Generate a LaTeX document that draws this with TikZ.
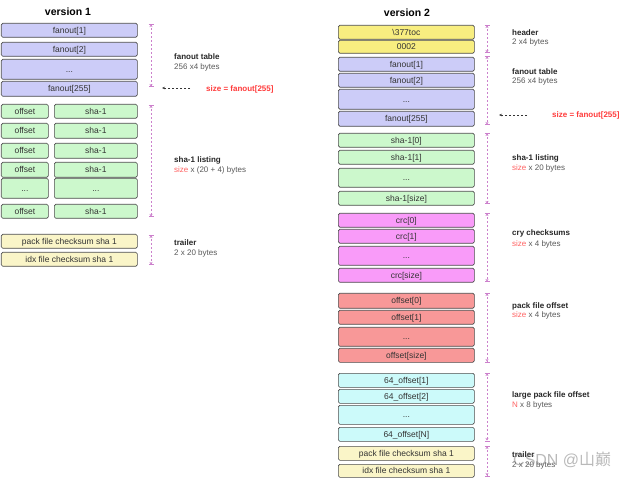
\documentclass[tikz,border=0pt]{standalone}
\usepackage{fontspec}
\setmainfont{Liberation Sans}
\newfontfamily\cjk{Noto Sans CJK SC}
\usetikzlibrary{arrows.meta}
\definecolor{fan}{HTML}{CCCCF8}
\definecolor{grn}{HTML}{CCF8CC}
\definecolor{hdr}{HTML}{F8EE80}
\definecolor{trl}{HTML}{FAF5C8}
\definecolor{crcc}{HTML}{F99BF9}
\definecolor{offc}{HTML}{F89898}
\definecolor{cyn}{HTML}{CCFAFA}
\definecolor{brkc}{HTML}{CC80CC}
\definecolor{redt}{HTML}{FF3B3B}
\tikzset{
  box/.style={draw=black!70, line width=0.7pt, rounded corners=1.5pt, inner sep=0pt,
    anchor=north west, font=\fontsize{8.5}{9}\selectfont, text=black!80,
    text height=6pt, text depth=0pt},
  brk/.style={draw=brkc, dash pattern=on 2pt off 2pt, line width=0.5pt,
    {Bar[width=5pt,line width=0.5pt]Stealth[length=2.5pt,width=3pt]}-{Stealth[length=2.5pt,width=3pt]Bar[width=5pt,line width=0.5pt]}},
  ptr/.style={draw=black!80, dash pattern=on 2pt off 2pt, line width=0.5pt, -{Stealth[length=3pt,width=2.5pt]}},
  ttl/.style={font=\bfseries\fontsize{10.5}{12}\selectfont, inner sep=0pt},
  lbl/.style={anchor=west, inner sep=0pt, font=\bfseries\fontsize{8}{9}\selectfont, text=black!85},
  sub/.style={anchor=west, inner sep=0pt, font=\fontsize{8}{9}\selectfont, text=black!65},
  redl/.style={anchor=west, inner sep=0pt, font=\bfseries\fontsize{8}{9}\selectfont, text=redt},
}
\begin{document}
\begin{tikzpicture}[x=1pt,y=-1pt]
\useasboundingbox (0,0) rectangle (640,478);
% ---------- version 1 ----------
\node[ttl] (t1) at (68,12) {version 1};
\node[box,fill=fan,minimum width=136pt,minimum height=14pt] (af1) at (1,23) {fanout[1]};
\node[box,fill=fan,minimum width=136pt,minimum height=14pt] (af2) at (1,42) {fanout[2]};
\node[box,fill=fan,minimum width=136pt,minimum height=20pt] (afd) at (1,59) {...};
\node[box,fill=fan,minimum width=136pt,minimum height=15pt] (af3) at (1,81) {fanout[255]};
\node[box,fill=grn,minimum width=47pt,minimum height=14pt] (ao1) at (1,104) {offset};
\node[box,fill=grn,minimum width=83pt,minimum height=14pt] (as1) at (54,104) {sha-1};
\node[box,fill=grn,minimum width=47pt,minimum height=15pt] (ao2) at (1,123) {offset};
\node[box,fill=grn,minimum width=83pt,minimum height=15pt] (as2) at (54,123) {sha-1};
\node[box,fill=grn,minimum width=47pt,minimum height=15pt] (ao3) at (1,143) {offset};
\node[box,fill=grn,minimum width=83pt,minimum height=15pt] (as3) at (54,143) {sha-1};
\node[box,fill=grn,minimum width=47pt,minimum height=15pt] (ao4) at (1,162) {offset};
\node[box,fill=grn,minimum width=83pt,minimum height=15pt] (as4) at (54,162) {sha-1};
\node[box,fill=grn,minimum width=47pt,minimum height=20pt] (aod) at (1,178) {...};
\node[box,fill=grn,minimum width=83pt,minimum height=20pt] (asd) at (54,178) {...};
\node[box,fill=grn,minimum width=47pt,minimum height=14pt] (ao6) at (1,204) {offset};
\node[box,fill=grn,minimum width=83pt,minimum height=14pt] (as6) at (54,204) {sha-1};
\node[box,fill=trl,minimum width=136pt,minimum height=14pt] (atp) at (1,234) {pack file checksum sha 1};
\node[box,fill=trl,minimum width=136pt,minimum height=14pt] (ati) at (1,252) {idx file checksum sha 1};
% brackets v1
\coordinate (b1a) at (151,24); \coordinate (b1b) at (151,87);
\coordinate (b2a) at (151,105); \coordinate (b2b) at (151,217);
\coordinate (b3a) at (151,235); \coordinate (b3b) at (151,265);
\draw[brk] (b1a) -- (b1b);
\draw[brk] (b2a) -- (b2b);
\draw[brk] (b3a) -- (b3b);
% labels v1
\node[lbl] (l1a) at (174,57) {fanout table};
\node[sub] (l1b) at (174,67) {256 x4 bytes};
\coordinate (p1s) at (190,88); \coordinate (p1e) at (162,88);
\draw[ptr] (p1s) -- (p1e);
\node[redl] (r1) at (206,89) {size = fanout[255]};
\node[lbl] (l2a) at (174,160) {sha-1 listing};
\node[sub] (l2b) at (174,170) {\textcolor{redt!80}{size} x (20 + 4) bytes};
\node[lbl] (l3a) at (174,243) {trailer};
\node[sub] (l3b) at (174,253) {2 x 20 bytes};
% ---------- version 2 ----------
\node[ttl] (t2) at (407,13) {version 2};
\node[box,fill=hdr,minimum width=136pt,minimum height=14pt] (bh1) at (338,25) {\textbackslash 377toc};
\node[box,fill=hdr,minimum width=136pt,minimum height=13pt] (bh2) at (338,40) {0002};
\node[box,fill=fan,minimum width=136pt,minimum height=14pt] (bf1) at (338,57) {fanout[1]};
\node[box,fill=fan,minimum width=136pt,minimum height=14pt] (bf2) at (338,73) {fanout[2]};
\node[box,fill=fan,minimum width=136pt,minimum height=20pt] (bfd) at (338,89) {...};
\node[box,fill=fan,minimum width=136pt,minimum height=15pt] (bf3) at (338,111) {fanout[255]};
\node[box,fill=grn,minimum width=136pt,minimum height=14pt] (bs1) at (338,133) {sha-1[0]};
\node[box,fill=grn,minimum width=136pt,minimum height=14pt] (bs2) at (338,150) {sha-1[1]};
\node[box,fill=grn,minimum width=136pt,minimum height=19pt] (bsd) at (338,168) {...};
\node[box,fill=grn,minimum width=136pt,minimum height=14pt] (bs3) at (338,191) {sha-1[size]};
\node[box,fill=crcc,minimum width=136pt,minimum height=14pt] (bc1) at (338,213) {crc[0]};
\node[box,fill=crcc,minimum width=136pt,minimum height=14pt] (bc2) at (338,229) {crc[1]};
\node[box,fill=crcc,minimum width=136pt,minimum height=19pt] (bcd) at (338,246) {...};
\node[box,fill=crcc,minimum width=136pt,minimum height=14pt] (bc3) at (338,268) {crc[size]};
\node[box,fill=offc,minimum width=136pt,minimum height=15pt] (bo1) at (338,293) {offset[0]};
\node[box,fill=offc,minimum width=136pt,minimum height=14pt] (bo2) at (338,310) {offset[1]};
\node[box,fill=offc,minimum width=136pt,minimum height=19pt] (bod) at (338,327) {...};
\node[box,fill=offc,minimum width=136pt,minimum height=14pt] (bo3) at (338,348) {offset[size]};
\node[box,fill=cyn,minimum width=136pt,minimum height=14pt] (bl1) at (338,373) {64\_offset[1]};
\node[box,fill=cyn,minimum width=136pt,minimum height=14pt] (bl2) at (338,389) {64\_offset[2]};
\node[box,fill=cyn,minimum width=136pt,minimum height=19pt] (bld) at (338,405) {...};
\node[box,fill=cyn,minimum width=136pt,minimum height=14pt] (bl3) at (338,427) {64\_offset[N]};
\node[box,fill=trl,minimum width=136pt,minimum height=14pt] (btp) at (338,446) {pack file checksum sha 1};
\node[box,fill=trl,minimum width=136pt,minimum height=13pt] (bti) at (338,464) {idx file checksum sha 1};
% brackets v2
\coordinate (c1a) at (487,25); \coordinate (c1b) at (487,53);
\coordinate (c2a) at (487,56); \coordinate (c2b) at (487,125);
\coordinate (c3a) at (487,133); \coordinate (c3b) at (487,204);
\coordinate (c4a) at (487,213); \coordinate (c4b) at (487,282);
\coordinate (c5a) at (487,293); \coordinate (c5b) at (487,362);
\coordinate (c6a) at (487,373); \coordinate (c6b) at (487,441);
\coordinate (c7a) at (487,446); \coordinate (c7b) at (487,476);
\draw[brk] (c1a) -- (c1b);
\draw[brk] (c2a) -- (c2b);
\draw[brk] (c3a) -- (c3b);
\draw[brk] (c4a) -- (c4b);
\draw[brk] (c5a) -- (c5b);
\draw[brk] (c6a) -- (c6b);
\draw[brk] (c7a) -- (c7b);
% labels v2
\node[lbl] (m1a) at (512,33) {header};
\node[sub] (m1b) at (512,42) {2 x4 bytes};
\node[lbl] (m2a) at (512,72) {fanout table};
\node[sub] (m2b) at (512,81) {256 x4 bytes};
\coordinate (p2s) at (527,115); \coordinate (p2e) at (499,115);
\draw[ptr] (p2s) -- (p2e);
\node[redl] (r2) at (552,115) {size = fanout[255]};
\node[lbl] (m3a) at (512,158) {sha-1 listing};
\node[sub] (m3b) at (512,168) {\textcolor{redt!80}{size} x 20 bytes};
\node[lbl] (m4a) at (512,233) {cry checksums};
\node[sub] (m4b) at (512,244) {\textcolor{redt!80}{size} x 4 bytes};
\node[lbl] (m5a) at (512,306) {pack file offset};
\node[sub] (m5b) at (512,315) {\textcolor{redt!80}{size} x 4 bytes};
\node[lbl] (m6a) at (512,395) {large pack file offset};
\node[sub] (m6b) at (512,405) {\textcolor{redt!80}{N} x 8 bytes};
\node[lbl] (m7a) at (512,455) {trailer};
\node[sub] (m7b) at (512,465) {2 x 20 bytes};
% watermark
\node[anchor=west, inner sep=0pt, text=gray, opacity=0.55, font=\fontsize{16}{18}\selectfont] (wm) at (513,460) {CSDN @{\cjk 山巅}};
\end{tikzpicture}
\end{document}
